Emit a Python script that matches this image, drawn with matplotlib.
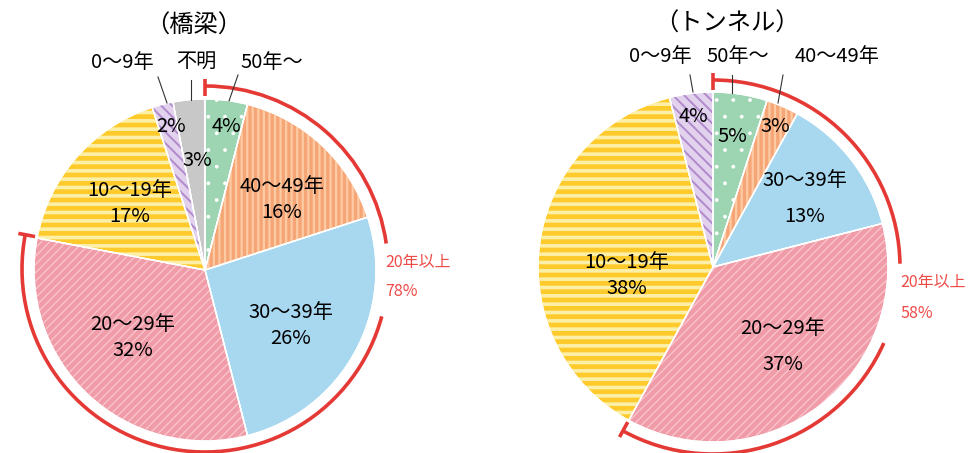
import numpy as np
import matplotlib
matplotlib.use("Agg")
import matplotlib.pyplot as plt
from matplotlib.patches import Arc

plt.rcParams['font.family'] = ['Noto Sans CJK JP', 'DejaVu Sans']

# ---- data ----
bridge_labels = ['50年～', '40～49年', '30～39年', '20～29年', '10～19年', '0～9年', '不明']
bridge_values = [4, 16, 26, 32, 17, 2, 3]
tunnel_labels = ['50年～', '40～49年', '30～39年', '20～29年', '10～19年', '0～9年']
tunnel_values = [5, 3, 13, 37, 38, 4]
titles = ['（橋梁）', '（トンネル）']
over20_label = '20年以上'
n_over20 = 4  # first four slices are 20 years or older

# ---- styles per category ----
style = {
    '50年～':   dict(face='#9DD5B3', hatch='.', hcolor='white', hlw=0.3),
    '40～49年': dict(face='#F6A676', hatch='|||', hcolor='#FDCBA3', hlw=1.6),
    '30～39年': dict(face='#A8D8F0', hatch=None, hcolor=None, hlw=1.0),
    '20～29年': dict(face='#F09CA8', hatch='////', hcolor='#F8C3CA', hlw=1.0),
    '10～19年': dict(face='#FFCA2C', hatch='--', hcolor='#FCEFA8', hlw=2.6),
    '0～9年':   dict(face='#E2D2EE', hatch='\\\\\\', hcolor='#B08ACB', hlw=1.4),
    '不明':     dict(face='#C8C8C8', hatch=None, hcolor=None, hlw=1.0),
}
RED = '#E53935'
RED_TXT = '#EE4B47'

W, H = 980, 453
fig = plt.figure(figsize=(W / 100, H / 100), dpi=100)
ax = fig.add_axes([0, 0, 1, 1])


def Y(y):
    return H - y


def draw_pie(labels, values, cx, cy, r):
    colors = [style[l]['face'] for l in labels]
    ax.pie(values, colors=colors, startangle=90, counterclock=False,
           center=(cx, Y(cy)), radius=r,
           wedgeprops=dict(edgecolor='white', linewidth=1.0))
    # hatch overlay
    over, _ = ax.pie(values, colors=['none'] * len(values), startangle=90,
                     counterclock=False, center=(cx, Y(cy)), radius=r,
                     wedgeprops=dict(linewidth=0))
    for w, l in zip(over, labels):
        s = style[l]
        if s['hatch'] is None:
            continue
        w.set_edgecolor(s['hcolor'])
        w.set_hatch(s['hatch'])
        if hasattr(w, 'set_hatch_linewidth'):
            w.set_hatch_linewidth(s['hlw'])
    # redraw white borders on top
    ax.pie(values, colors=['none'] * len(values), startangle=90,
           counterclock=False, center=(cx, Y(cy)), radius=r,
           wedgeprops=dict(edgecolor='white', linewidth=1.0, fill=False))


def draw_bracket(values, cx, cy, R, gap):
    share = sum(values[:n_over20]) / sum(values) * 360
    start = 90
    end = 90 - share
    ax.add_patch(Arc((cx, Y(cy)), 2 * R, 2 * R, theta1=gap[0], theta2=start,
                     color=RED, lw=2.6))
    ax.add_patch(Arc((cx, Y(cy)), 2 * R, 2 * R, theta1=end, theta2=gap[1],
                     color=RED, lw=2.6))
    for a in (start, end):
        t = np.deg2rad(a)
        r0, r1 = R - 10, R + 7
        ax.plot([cx + r0 * np.cos(t), cx + r1 * np.cos(t)],
                [Y(cy) + r0 * np.sin(t), Y(cy) + r1 * np.sin(t)],
                color=RED, lw=2.6, solid_capstyle='butt')


FS = 14.5
FS_RED = 11.5
FS_TITLE = 17.5

# ---- bridge ----
draw_pie(bridge_labels, bridge_values, 205, 270, 171)
draw_bracket(bridge_values, 205, 269, 183, (8, -15))
ax.text(194, Y(26), titles[0], ha='center', va='center', fontsize=FS_TITLE)

outside_b = {'0～9年': (122, 62), '不明': (196, 61), '50年～': (272, 62)}
leaders_b = {'0～9年': ((158, 77), (167, 103)), '不明': ((191, 80), (191, 100)),
             '50年～': ((238, 75), (229, 101))}
for l, (x, y) in outside_b.items():
    ax.text(x, Y(y), l, ha='center', va='center', fontsize=FS)
    (x0, y0), (x1, y1) = leaders_b[l]
    ax.plot([x0, x1], [Y(y0), Y(y1)], color='#333333', lw=0.8)

pct_b = dict(zip(bridge_labels, bridge_values))
ax.text(171, Y(126), f"{pct_b['0～9年']}%", ha='center', va='center', fontsize=FS)
ax.text(197, Y(161), f"{pct_b['不明']}%", ha='center', va='center', fontsize=FS)
ax.text(226, Y(127), f"{pct_b['50年～']}%", ha='center', va='center', fontsize=FS)
inside_b = {'40～49年': (282, 186), '10～19年': (130, 191),
            '30～39年': (291, 312), '20～29年': (133, 325)}
for l, (x, y) in inside_b.items():
    ax.text(x, Y(y), l, ha='center', va='center', fontsize=FS)
    ax.text(x, Y(y + 26), f"{pct_b[l]}%", ha='center', va='center', fontsize=FS)

ax.text(385, Y(262), over20_label, ha='left', va='center', fontsize=FS_RED, color=RED_TXT)
ax.text(385, Y(292), f"{sum(bridge_values[:n_over20])}%", ha='left', va='center',
        fontsize=FS_RED, color=RED_TXT)

# ---- tunnel ----
draw_pie(tunnel_labels, tunnel_values, 713, 267, 175)
draw_bracket(tunnel_values, 713, 267, 187, (1, -24))
ax.text(727, Y(24), titles[1], ha='center', va='center', fontsize=FS_TITLE)

outside_t = {'0～9年': (660, 56), '50年～': (738, 56), '40～49年': (837, 56)}
leaders_t = {'0～9年': ((690, 75), (693, 92)), '50年～': ((732, 75), (732, 93)),
             '40～49年': ((783, 75), (778, 103))}
for l, (x, y) in outside_t.items():
    ax.text(x, Y(y), l, ha='center', va='center', fontsize=FS)
    (x0, y0), (x1, y1) = leaders_t[l]
    ax.plot([x0, x1], [Y(y0), Y(y1)], color='#333333', lw=0.8)

pct_t = dict(zip(tunnel_labels, tunnel_values))
ax.text(693, Y(116), f"{pct_t['0～9年']}%", ha='center', va='center', fontsize=FS)
ax.text(732, Y(136), f"{pct_t['50年～']}%", ha='center', va='center', fontsize=FS)
ax.text(775, Y(126), f"{pct_t['40～49年']}%", ha='center', va='center', fontsize=FS)
inside_t = {'30～39年': (805, 181, 35), '10～19年': (627, 262, 27),
            '20～29年': (783, 328, 36)}
for l, (x, y, dy) in inside_t.items():
    ax.text(x, Y(y), l, ha='center', va='center', fontsize=FS)
    ax.text(x, Y(y + dy), f"{pct_t[l]}%", ha='center', va='center', fontsize=FS)

ax.text(900, Y(282), over20_label, ha='left', va='center', fontsize=FS_RED, color=RED_TXT)
ax.text(900, Y(313), f"{sum(tunnel_values[:n_over20])}%", ha='left', va='center',
        fontsize=FS_RED, color=RED_TXT)

ax.set_xlim(0, W)
ax.set_ylim(0, H)
ax.set_aspect('equal')
ax.axis('off')

fig.savefig('out.png', dpi=100)
